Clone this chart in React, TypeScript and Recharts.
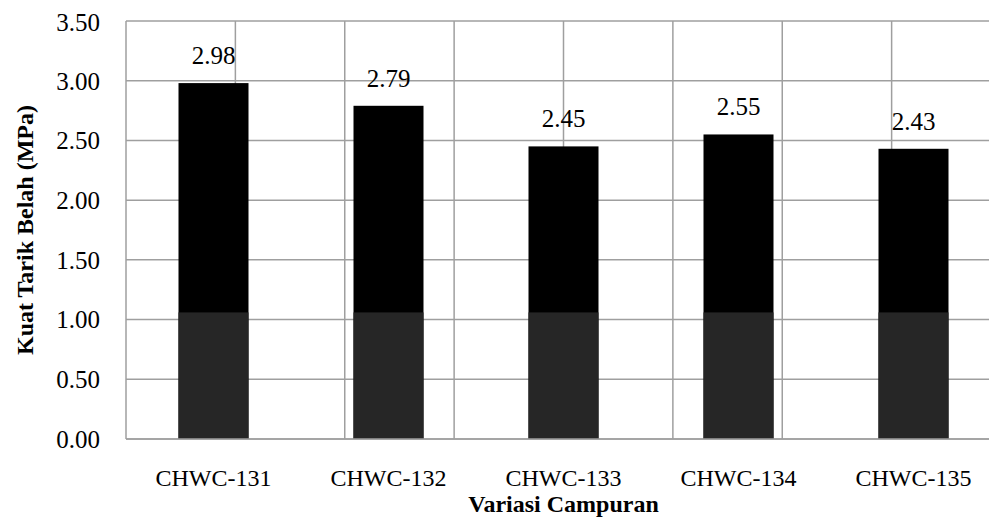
import { BarChart, Bar, XAxis, YAxis, CartesianGrid, LabelList } from 'recharts';

// Data
const variasi = ['CHWC-131', 'CHWC-132', 'CHWC-133', 'CHWC-134', 'CHWC-135'];
const kuatTarik = [2.98, 2.79, 2.45, 2.55, 2.43];
const yTicks = [0, 0.5, 1, 1.5, 2, 2.5, 3, 3.5];
// vertical grid lines sit on bar centres and between bars
const gridTicks = [0, 0.5, 1, 1.5, 2, 2.5, 3, 3.5, 4, 4.5, 5];
// the lower part of each bar is slightly lighter (scanned watermark)
const splitLevel = 1.06;

const data = variasi.map((name, i) => ({ name, idx: i + 0.5, kuat: kuatTarik[i] }));

const FONT = '"Liberation Serif", "Times New Roman", serif';
const GRID = '#9f9f9f';

const SplitBar = (props: any) => {
  const { x, y, width, height, payload } = props;
  if (!height || height <= 0) return null;
  const v = payload?.kuat ?? 1;
  const lowH = Math.min(height, (height * splitLevel) / v);
  return (
    <g>
      <rect x={x} y={y} width={width} height={height} fill="#000" />
      <rect x={x} y={y + height - lowH} width={width} height={lowH} fill="#262626" />
    </g>
  );
};

export default function App() {
  return (
    <div style={{ width: 989, height: 515, overflow: 'hidden', background: '#fff' }}>
      <BarChart
        width={1000}
        height={515}
        data={data}
        margin={{ top: 13, right: 7, bottom: 0, left: 0 }}
        barCategoryGap="30%"
        style={{ fontFamily: FONT }}
      >
        <XAxis xAxisId="grid" type="number" domain={[0, 5]} ticks={gridTicks} hide />
        <CartesianGrid xAxisId="grid" stroke={GRID} strokeWidth={1.5} />
        <XAxis
          xAxisId="cat"
          dataKey="name"
          height={84}
          tickLine={false}
          tickSize={0}
          tickMargin={30}
          axisLine={{ stroke: GRID, strokeWidth: 1.5 }}
          tick={{ fontSize: 24, fill: '#000', fontFamily: FONT }}
          label={{
            value: 'Variasi Campuran',
            position: 'insideBottom',
            offset: 11,
            style: { fontSize: 24, fontWeight: 'bold', fill: '#000', fontFamily: FONT },
          }}
        />
        <YAxis
          width={118}
          domain={[0, 3.5]}
          ticks={yTicks}
          tickFormatter={(v: number) => v.toFixed(2)}
          tickLine={false}
          tickSize={0}
          tickMargin={26}
          axisLine={false}
          tick={{ fontSize: 25, fill: '#000', fontFamily: FONT }}
          label={{
            value: 'Kuat Tarik Belah (MPa)',
            angle: -90,
            position: 'insideLeft',
            offset: 16,
            style: { textAnchor: 'middle', fontSize: 24, fontWeight: 'bold', fill: '#000', fontFamily: FONT },
          }}
        />
        <Bar xAxisId="cat" dataKey="kuat" shape={<SplitBar />} isAnimationActive={false}>
          <LabelList
            dataKey="kuat"
            position="top"
            offset={19}
            formatter={(v: any) => Number(v).toFixed(2)}
            style={{ fontSize: 25, fill: '#000', fontFamily: FONT }}
          />
        </Bar>
      </BarChart>
    </div>
  );
}
